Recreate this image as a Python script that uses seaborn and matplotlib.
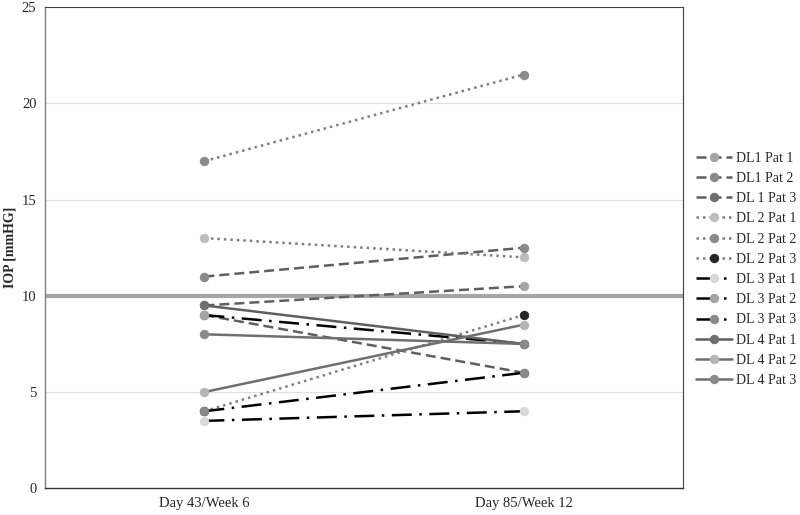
import matplotlib
matplotlib.use('Agg')
import matplotlib.pyplot as plt
import seaborn as sns

# ─── DATA ────────────────────────────────────────────
visits = ['Day 43/Week 6', 'Day 85/Week 12']
series_names = ['DL1 Pat 1', 'DL1 Pat 2', 'DL 1 Pat 3',
                'DL 2 Pat 1', 'DL 2 Pat 2', 'DL 2 Pat 3',
                'DL 3 Pat 1', 'DL 3 Pat 2', 'DL 3 Pat 3',
                'DL 4 Pat 1', 'DL 4 Pat 2', 'DL 4 Pat 3']
week6 = [9.5, 11, 9, 13, 17, 4, 3.5, 9, 4, 9.5, 5, 8]
week12 = [10.5, 12.5, 6, 12, 21.5, 9, 4, 7.5, 6, 7.5, 8.5, 7.5]
threshold = 10
yticks = [0, 5, 10, 15, 20, 25]

# ─── STYLE ────────────────────────────────────────────
sns.set_style('white')
plt.rcParams['font.family'] = ['Liberation Serif', 'DejaVu Serif']

line_colors = ['#5f5f5f'] * 3 + ['#7f7f7f'] * 3 + ['#000000'] * 3 + ['#5f5f5f', '#6f6f6f', '#6f6f6f']
marker_colors = ['#a5a5a5', '#8a8a8a', '#6e6e6e',
                 '#bdbdbd', '#8a8a8a', '#262626',
                 '#d9d9d9', '#a5a5a5', '#8a8a8a',
                 '#6e6e6e', '#b5b5b5', '#8a8a8a']
styles = [(0, (4, 2))] * 3 + [(0, (1, 1.6))] * 3 + [(0, (8, 3, 1, 3))] * 3 + ['-'] * 3

fig, ax = plt.subplots(figsize=(8, 5.15), dpi=100)
fig.subplots_adjust(left=0.056, right=0.854, top=0.986, bottom=0.052)

for y in [5, 15, 20]:
    ax.axhline(y, color='#e0e0e0', linewidth=0.8, zorder=0)
ax.axhline(threshold, color='#a6a6a6', linewidth=3, zorder=1)

for i, name in enumerate(series_names):
    sns.lineplot(x=visits, y=[week6[i], week12[i]], ax=ax, label=name,
                 color=line_colors[i], linestyle=styles[i], linewidth=1.8,
                 marker='o', markersize=6, markerfacecolor=marker_colors[i],
                 markeredgecolor=marker_colors[i], zorder=3)

ax.set_xlim(-0.5, 1.5)
ax.set_ylim(0, 25)
ax.set_yticks(yticks)
ax.set_ylabel('IOP [mmHG]', fontsize=10, fontweight='bold', labelpad=4)
ax.set_xlabel('')
ax.tick_params(axis='both', labelsize=10.5, length=0, pad=6)

for side in ['top', 'right']:
    ax.spines[side].set_color('#404040')
    ax.spines[side].set_linewidth(0.8)
for side in ['left', 'bottom']:
    ax.spines[side].set_color('#7f7f7f')
    ax.spines[side].set_linewidth(1.0)
ax.spines['bottom'].set_color('#303030')

ax.legend(loc='center left', bbox_to_anchor=(1.005, 0.455), frameon=False,
          fontsize=10, handlelength=2.6, handletextpad=0.25, labelspacing=0.52,
          borderaxespad=0.3)

plt.savefig('out.png', dpi=100)
